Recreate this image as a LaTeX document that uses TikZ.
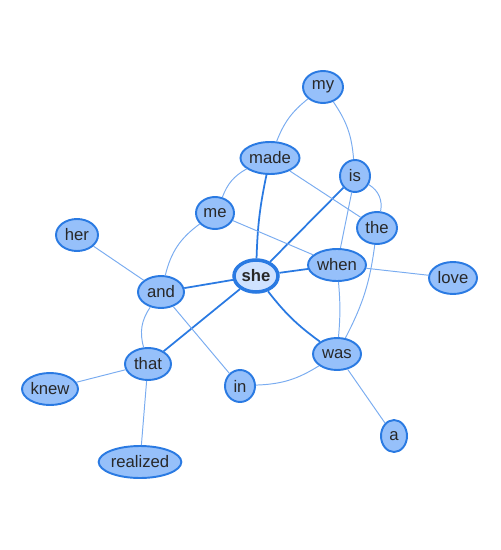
\documentclass[tikz,border=0pt]{standalone}
\usepackage{fontspec}
\setmainfont{Liberation Sans}
\usetikzlibrary{shapes.geometric}
\definecolor{nodefill}{RGB}{150,192,250}
\definecolor{nodeline}{RGB}{42,122,226}
\definecolor{hubfill}{RGB}{207,226,255}
\definecolor{weakedge}{RGB}{122,172,240}
\definecolor{wordtext}{RGB}{40,40,40}
\begin{document}
\begin{tikzpicture}[x=0.02cm, y=-0.02cm,
    word/.style={ellipse, draw=nodeline, line width=1.1pt, fill=nodefill,
                 text=wordtext, inner sep=0pt, minimum height=0.64cm,
                 font=\fontsize{9.5}{10}\selectfont},
    hub/.style={word, fill=hubfill, line width=2pt, font=\fontsize{9.5}{10}\selectfont\bfseries},
    weak/.style={draw=weakedge, line width=0.55pt},
    strong/.style={draw=nodeline, line width=1pt}]
    \useasboundingbox (0,0) rectangle (500,550);

    % Words
    \node[word, minimum width=0.8cm]  (my)       at (323,87)  {my};
    \node[word, minimum width=1.16cm] (made)     at (270,158) {made};
    \node[word, minimum width=0.6cm]  (is)       at (355,176) {is};
    \node[word, minimum width=0.76cm] (me)       at (215,213) {me};
    \node[word, minimum width=0.8cm]  (the)      at (377,228) {the};
    \node[word, minimum width=0.84cm] (her)      at (77,235)  {her};
    \node[hub,  minimum width=0.88cm] (she)      at (256,276) {she};
    \node[word, minimum width=1.16cm] (when)     at (337,265) {when};
    \node[word, minimum width=0.96cm] (love)     at (453,278) {love};
    \node[word, minimum width=0.92cm] (and)      at (161,292) {and};
    \node[word, minimum width=0.92cm] (that)     at (148,364) {that};
    \node[word, minimum width=0.96cm] (was)      at (337,354) {was};
    \node[word, minimum width=0.6cm]  (in)       at (240,386) {in};
    \node[word, minimum width=1.12cm] (knew)     at (50,389)  {knew};
    \node[word, minimum width=0.52cm] (a)        at (394,436) {a};
    \node[word, minimum width=1.52cm] (realized) at (140,462) {realized};

    % Links to she
    \draw[strong] (made) to[bend right=5] (she);
    \draw[strong] (is) -- (she);
    \draw[strong] (and) -- (she);
    \draw[strong] (she) -- (that);
    \draw[strong] (she) -- (when);
    \draw[strong] (she) to[bend right=8] (was);

    % Other links
    \draw[weak] (my) to[bend right=15] (made);
    \draw[weak] (my) to[bend left=15] (is);
    \draw[weak] (made) to[bend right=20] (me);
    \draw[weak] (made) -- (the);
    \draw[weak] (is) to[bend left=35] (the);
    \draw[weak] (is) -- (when);
    \draw[weak] (the) to[bend left=10] (was);
    \draw[weak] (me) -- (when);
    \draw[weak] (me) to[bend right=20] (and);
    \draw[weak] (her) -- (and);
    \draw[weak] (and) to[bend right=25] (that);
    \draw[weak] (and) -- (in);
    \draw[weak] (when) -- (love);
    \draw[weak] (when) to[bend left=5] (was);
    \draw[weak] (was) to[bend left=15] (in);
    \draw[weak] (was) -- (a);
    \draw[weak] (that) -- (knew);
    \draw[weak] (that) -- (realized);
\end{tikzpicture}
\end{document}
